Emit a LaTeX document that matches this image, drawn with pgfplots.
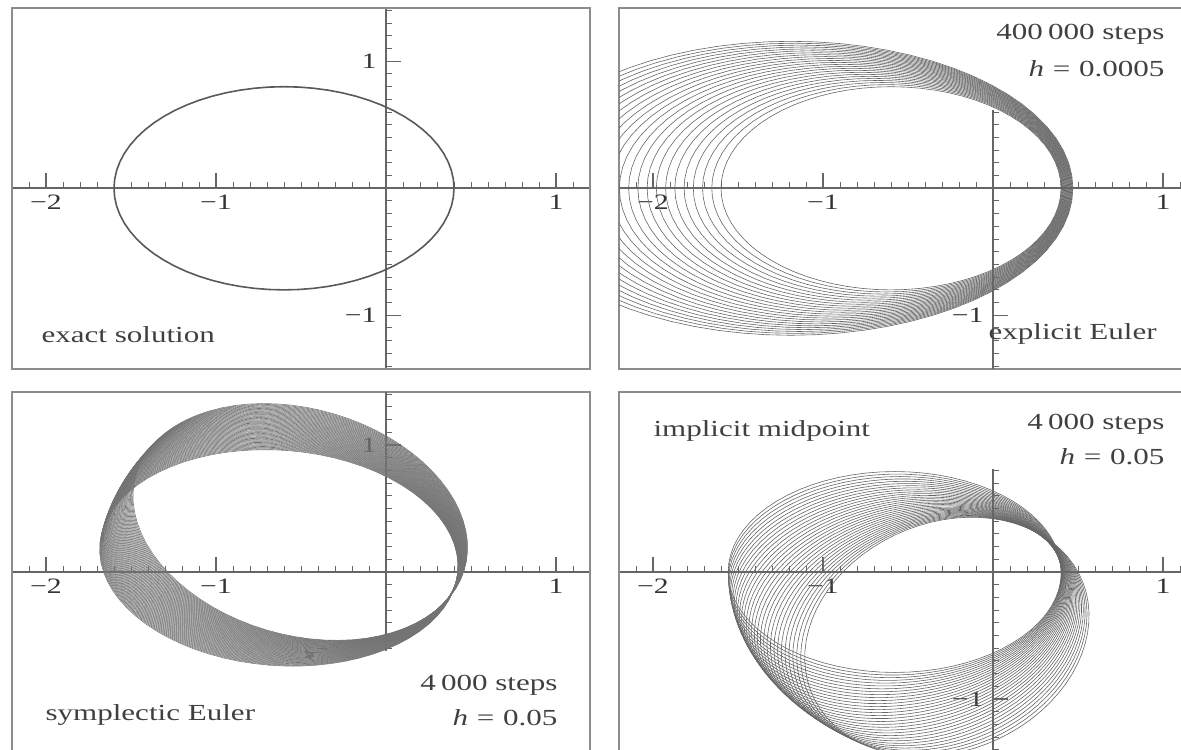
\documentclass[border=0pt]{standalone}
\usepackage{fontspec}
\setmainfont{Liberation Serif}
\usepackage{pgfplots}
\pgfplotsset{compat=1.18}
\usepackage{pgfplotstable}

% unit circle (cos t, sin t), t = 0,5,...,360 degrees
\pgfplotstableread{
c s
1.0000 0.0000
0.9962 0.0872
0.9848 0.1736
0.9659 0.2588
0.9397 0.3420
0.9063 0.4226
0.8660 0.5000
0.8192 0.5736
0.7660 0.6428
0.7071 0.7071
0.6428 0.7660
0.5736 0.8192
0.5000 0.8660
0.4226 0.9063
0.3420 0.9397
0.2588 0.9659
0.1736 0.9848
0.0872 0.9962
0.0000 1.0000
-0.0872 0.9962
-0.1736 0.9848
-0.2588 0.9659
-0.3420 0.9397
-0.4226 0.9063
-0.5000 0.8660
-0.5736 0.8192
-0.6428 0.7660
-0.7071 0.7071
-0.7660 0.6428
-0.8192 0.5736
-0.8660 0.5000
-0.9063 0.4226
-0.9397 0.3420
-0.9659 0.2588
-0.9848 0.1736
-0.9962 0.0872
-1.0000 0.0000
-0.9962 -0.0872
-0.9848 -0.1736
-0.9659 -0.2588
-0.9397 -0.3420
-0.9063 -0.4226
-0.8660 -0.5000
-0.8192 -0.5736
-0.7660 -0.6428
-0.7071 -0.7071
-0.6428 -0.7660
-0.5736 -0.8192
-0.5000 -0.8660
-0.4226 -0.9063
-0.3420 -0.9397
-0.2588 -0.9659
-0.1736 -0.9848
-0.0872 -0.9962
0.0000 -1.0000
0.0872 -0.9962
0.1736 -0.9848
0.2588 -0.9659
0.3420 -0.9397
0.4226 -0.9063
0.5000 -0.8660
0.5736 -0.8192
0.6428 -0.7660
0.7071 -0.7071
0.7660 -0.6428
0.8192 -0.5736
0.8660 -0.5000
0.9063 -0.4226
0.9397 -0.3420
0.9659 -0.2588
0.9848 -0.1736
0.9962 -0.0872
1.0000 0.0000
}\uc

% orbit with centre (#2,0), semi-axes #3, #4
\newcommand{\orbit}[4][orb]{\addplot[#1] table[x expr={#2+#3*\thisrow{c}}, y expr={#4*\thisrow{s}}] {\uc};}
% Kepler orbit: focus at origin, a*e=#1, a=#2, b=#3, perihelion direction #4 (deg)
\newcommand{\korbit}[5][orb]{\addplot[#1] table[x expr={(-#2+#3*\thisrow{c})*cos(#5)-#4*\thisrow{s}*sin(#5)}, y expr={(-#2+#3*\thisrow{c})*sin(#5)+#4*\thisrow{s}*cos(#5)}] {\uc};}

\tikzset{
  orb/.style={black!60, line width=0.3pt},
  orbs/.style={black!55, line width=0.28pt},
  frame/.style={black!45, line width=1.1pt},
  txt/.style={font=\fontsize{11.5}{14}\selectfont, text=black!75, xscale=1.35, inner sep=0pt},
}
\pgfplotsset{
  panel/.style={
    scale only axis, width=289pt, height=180.34pt,
    xmin=-2.2, xmax=1.2, ymin=-1.42, ymax=1.42,
    axis lines=middle, axis line style={-, draw=black!60, line width=0.8pt},
    tick align=inside, major tick length=7.5pt, minor tick length=3pt,
    every major tick/.append style={black!60, line width=0.6pt},
    every minor tick/.append style={black!60, line width=0.5pt},
    xtick={-2,-1,1}, xticklabels={−2,−1,1},
    minor xtick={-2.2,-2.1,...,1.21},
    tick label style={font=\fontsize{11}{13}\selectfont, text=black!80, xscale=1.35},
    anchor=origin, clip mode=individual,
  },
}

\begin{document}
\begin{tikzpicture}
% ---------------- exact solution
\begin{axis}[panel, at={(193pt,280.35pt)},
  ytick={-1,1}, yticklabels={−1,1}, minor ytick={-1.4,-1.3,...,1.41}]
\draw[frame] (rel axis cs:0,0) rectangle (rel axis cs:1,1);
\orbit[black!65, line width=0.8pt]{-0.6}{1}{0.8}
\end{axis}
% ---------------- explicit Euler
\begin{axis}[panel, at={(496.5pt,280.35pt)}, y axis line style={draw=none},
  ytick={-1}, yticklabels={−1}, minor ytick={-1.4,-1.3,...,0.61}]
\draw[frame] (rel axis cs:0,0) rectangle (rel axis cs:1,1);
\draw[black!60, line width=0.8pt] (axis cs:0,-1.42) -- (axis cs:0,0.62);
\orbit{-0.6}{1.0}{0.8}
\orbit{-0.6257}{1.0287}{0.8165}
\orbit{-0.6513}{1.0574}{0.8330}
\orbit{-0.6770}{1.0861}{0.8493}
\orbit{-0.7026}{1.1148}{0.8655}
\orbit{-0.7283}{1.1435}{0.8815}
\orbit{-0.7539}{1.1722}{0.8976}
\orbit{-0.7796}{1.2009}{0.9134}
\orbit{-0.8052}{1.2296}{0.9292}
\orbit{-0.8309}{1.2583}{0.9449}
\orbit{-0.8565}{1.2870}{0.9605}
\orbit{-0.8822}{1.3157}{0.9761}
\orbit{-0.9078}{1.3444}{0.9915}
\orbit{-0.9335}{1.3731}{1.0069}
\orbit{-0.9591}{1.4018}{1.0222}
\orbit{-0.9848}{1.4305}{1.0375}
\orbit{-1.0104}{1.4592}{1.0527}
\orbit{-1.0361}{1.4878}{1.0678}
\orbit{-1.0617}{1.5165}{1.0829}
\orbit{-1.0874}{1.5452}{1.0978}
\orbit{-1.1130}{1.5739}{1.1128}
\orbit{-1.1387}{1.6026}{1.1277}
\orbit{-1.1643}{1.6313}{1.1426}
\orbit{-1.1900}{1.6600}{1.1574}
\end{axis}
% ---------------- symplectic Euler
\begin{axis}[panel, at={(193pt,88.5pt)}, y axis line style={draw=none},
  ytick={1}, yticklabels={1}, minor ytick={-0.6,-0.5,...,1.41}]
\draw[frame] (rel axis cs:0,0) rectangle (rel axis cs:1,1);
\draw[black!60, line width=0.8pt] (axis cs:0,-0.62) -- (axis cs:0,1.42);
\pgfplotsinvokeforeach{-10,-10.5,...,-38}{\korbit[orbs]{0.640}{1.06}{0.845}{#1}}
\end{axis}
% ---------------- implicit midpoint
\begin{axis}[panel, at={(496.5pt,88.5pt)}, y axis line style={draw=none},
  ytick={-1}, yticklabels={−1}, minor ytick={-1.4,-1.3,...,0.81}]
\draw[frame] (rel axis cs:0,0) rectangle (rel axis cs:1,1);
\draw[black!60, line width=0.8pt] (axis cs:0,-1.42) -- (axis cs:0,0.81);
\pgfplotsinvokeforeach{0,2,...,62}{\korbit{0.578}{0.98}{0.791}{#1}}
\end{axis}
% ---------------- texts
\node[txt, anchor=base west] at (20.5pt,203pt) {exact solution};
\node[txt, anchor=base east] at (582.5pt,354.5pt) {400\,000 steps};
\node[txt, anchor=base east] at (582.5pt,336pt) {\textit{h}\hspace{0.28em}=\hspace{0.28em}0.0005};
\node[txt, anchor=base west] at (494pt,204.5pt) {explicit Euler};
\node[txt, anchor=base west] at (22.5pt,14.5pt) {symplectic Euler};
\node[txt, anchor=base east] at (279pt,29.5pt) {4\,000 steps};
\node[txt, anchor=base east] at (279pt,12pt) {\textit{h}\hspace{0.28em}=\hspace{0.28em}0.05};
\node[txt, anchor=base west] at (326.5pt,156pt) {implicit midpoint};
\node[txt, anchor=base east] at (582.5pt,159.5pt) {4\,000 steps};
\node[txt, anchor=base east] at (582.5pt,142pt) {\textit{h}\hspace{0.28em}=\hspace{0.28em}0.05};
\pgfresetboundingbox
\useasboundingbox (0,0) rectangle (590.5pt,374.5pt);
\end{tikzpicture}
\end{document}
